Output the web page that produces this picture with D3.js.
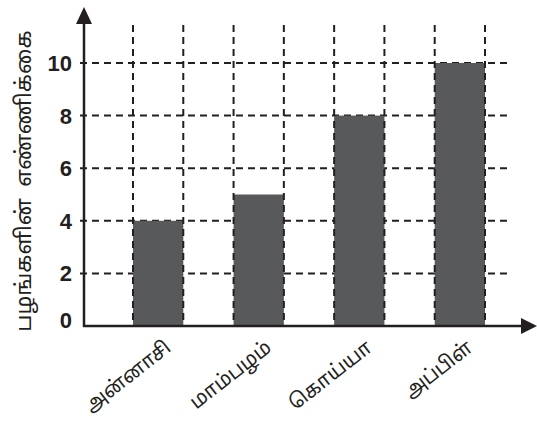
<!DOCTYPE html>
<html><head><meta charset="utf-8">
<script src="https://cdn.jsdelivr.net/npm/d3@7/dist/d3.min.js"></script>
<style>body{margin:0;background:#fff}svg{display:block}</style>
</head><body>
<svg id="c" width="537" height="421"></svg>
<script>
const categories = ["அன்னாசி", "மாம்பழம்", "கொய்யா", "அப்பிள்"];
const values = [4, 5, 8, 10];
const yTicks = [0, 2, 4, 6, 8, 10];
const yTitle = "பழங்களின்  எண்ணிக்கை";

const svg = d3.select("#c");
const ink = "#231f20";
const tamilFont = "'Noto Sans Tamil','Latha','Noto Sans',sans-serif";

const x = d3.scaleBand().domain(categories).range([133, 485]).paddingInner(0.5).paddingOuter(0);
const y = d3.scaleLinear().domain([0, 10]).range([326, 63]);

// horizontal grid (under bars)
svg.append("g").selectAll("line").data(yTicks.filter(d => d > 0)).join("line")
  .attr("x1", 80).attr("x2", 510)
  .attr("y1", d => y(d)).attr("y2", d => y(d))
  .attr("stroke", ink).attr("stroke-width", 2).attr("stroke-dasharray", "7,5");

// bars
svg.append("g").selectAll("rect").data(values).join("rect")
  .attr("x", (d, i) => x(categories[i]))
  .attr("width", x.bandwidth())
  .attr("y", d => y(d))
  .attr("height", d => y(0) - y(d))
  .attr("fill", "#58595b");

// vertical grid at bar edges (over bars)
const edges = [];
categories.forEach(c => { edges.push(x(c)); edges.push(x(c) + x.bandwidth()); });
svg.append("g").selectAll("line").data(edges).join("line")
  .attr("x1", d => d).attr("x2", d => d)
  .attr("y1", 25).attr("y2", 326)
  .attr("stroke", ink).attr("stroke-width", 2).attr("stroke-dasharray", "7,5");

// axes
svg.append("line").attr("x1", 84).attr("x2", 84).attr("y1", 327).attr("y2", 20)
  .attr("stroke", ink).attr("stroke-width", 2.5);
svg.append("path").attr("d", "M84,7 L76,24 L92,24 Z").attr("fill", ink);
svg.append("line").attr("x1", 83).attr("x2", 525).attr("y1", 326).attr("y2", 326)
  .attr("stroke", ink).attr("stroke-width", 2.5);
svg.append("path").attr("d", "M537,326 L521,318 L521,334 Z").attr("fill", ink);

// y tick labels
svg.append("g").selectAll("text").data(yTicks).join("text")
  .attr("x", 72).attr("y", d => y(d))
  .attr("dy", "0.36em")
  .attr("transform", d => d === 0 ? "translate(0,-6)" : null)
  .attr("text-anchor", "end")
  .attr("font-family", "Arial, 'Liberation Sans', sans-serif")
  .attr("font-weight", "bold").attr("font-size", 22)
  .attr("fill", ink)
  .text(d => d);

// y title
svg.append("text")
  .attr("transform", "translate(31,181) rotate(-90)")
  .attr("text-anchor", "middle")
  .attr("font-family", tamilFont).attr("font-size", 22)
  .attr("fill", ink)
  .attr("xml:space", "preserve")
  .style("white-space", "pre")
  .text(yTitle);

// x labels
svg.append("g").selectAll("text").data(categories).join("text")
  .attr("transform", c => `translate(${x(c) + x.bandwidth() / 2 + 14},${350}) rotate(-38)`)
  .attr("text-anchor", "end")
  .attr("font-family", tamilFont).attr("font-size", 20)
  .attr("fill", ink)
  .text(c => c);
</script>
</body></html>
